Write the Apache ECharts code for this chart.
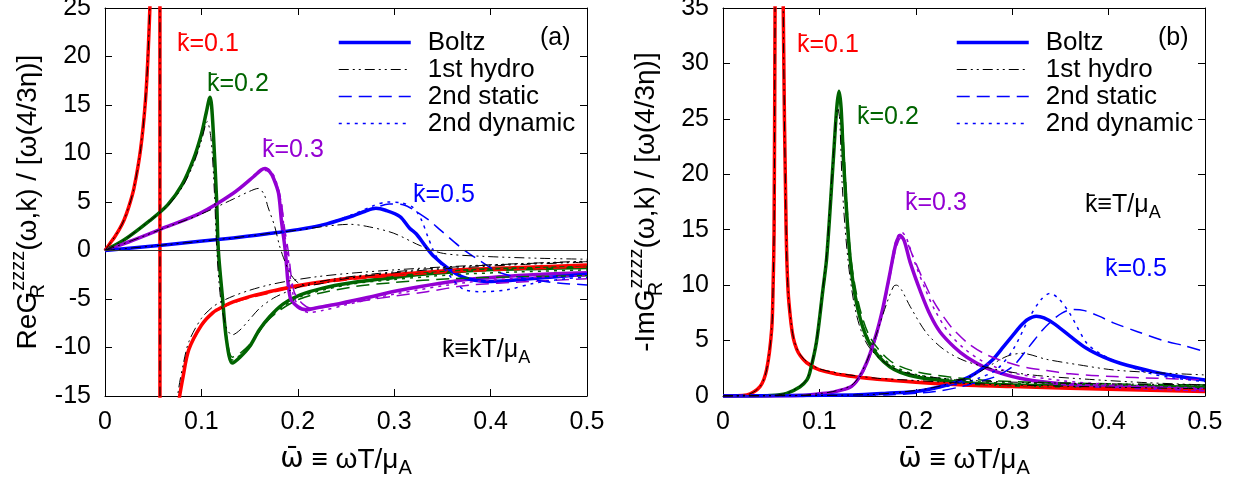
<!DOCTYPE html>
<html>
<head>
<meta charset="utf-8">
<script src="https://cdn.jsdelivr.net/npm/echarts@6/dist/echarts.min.js"></script>
<style>
  html, body { margin: 0; padding: 0; background: #fff; }
  #main { width: 1245px; height: 488px; }
</style>
</head>
<body>
<div id="main"></div>
<script>
const FONT = 'Liberation Sans';
const RED = '#ff0000', GREEN = '#006400', PURPLE = '#9400d3', BLUE = '#0000ff';

// ---- panel (a): Re G_R^zzzz / [w(4/3 eta)] ----
// k = 0.1 (pole near w = 0.057)
const reBoltz01 = [[0,0],[0.005,0.7],[0.01,1.4],[0.015,2.2],[0.02,3.2],[0.025,4.6],[0.03,6.4],[0.037,10.5],[0.042,15.5],[0.045,21],[0.048,30],[0.052,55],[0.055,150],[0.0568,400],[0.0572,-400],[0.06,-70],[0.065,-32],[0.07,-22],[0.076,-16],[0.081,-13],[0.087,-10.2],[0.1,-7.7],[0.112,-6.4],[0.122,-5.8],[0.133,-5.3],[0.15,-4.75],[0.168,-4.3],[0.19,-3.8],[0.22,-3.3],[0.254,-2.85],[0.29,-2.55],[0.358,-2.05],[0.43,-1.75],[0.5,-1.5]];
const reHydro01 = [[0,0],[0.005,0.7],[0.01,1.4],[0.015,2.2],[0.02,3.2],[0.025,4.6],[0.03,6.4],[0.037,10.5],[0.042,15.5],[0.045,21],[0.048,30],[0.052,55],[0.055,150],[0.0568,400],[0.0572,-400],[0.06,-65],[0.065,-29],[0.07,-19.5],[0.076,-14.5],[0.081,-11.8],[0.087,-9.4],[0.1,-7.0],[0.112,-5.8],[0.122,-5.2],[0.133,-4.7],[0.15,-4.1],[0.168,-3.6],[0.19,-3.15],[0.22,-2.7],[0.254,-2.35],[0.3,-2.0],[0.36,-1.65],[0.43,-1.35],[0.5,-1.1]];
const reStatic01 = [[0,0],[0.005,0.7],[0.01,1.4],[0.015,2.2],[0.02,3.2],[0.025,4.6],[0.03,6.4],[0.037,10.5],[0.042,15.5],[0.045,21],[0.048,30],[0.052,55],[0.055,150],[0.0568,400],[0.0572,-400],[0.06,-70],[0.065,-32],[0.07,-22],[0.076,-16],[0.081,-13],[0.087,-10.3],[0.1,-7.8],[0.112,-6.5],[0.122,-5.9],[0.133,-5.4],[0.15,-4.9],[0.168,-4.45],[0.19,-3.95],[0.22,-3.45],[0.254,-3.0],[0.29,-2.7],[0.358,-2.25],[0.43,-1.95],[0.5,-1.7]];
const reDyn01 = [[0,0],[0.005,0.7],[0.01,1.4],[0.015,2.2],[0.02,3.2],[0.025,4.6],[0.03,6.4],[0.037,10.5],[0.042,15.5],[0.045,21],[0.048,30],[0.052,55],[0.055,150],[0.0568,400],[0.0572,-400],[0.06,-70],[0.065,-32],[0.07,-22],[0.076,-16],[0.081,-13],[0.087,-10.2],[0.1,-7.7],[0.112,-6.4],[0.122,-5.8],[0.133,-5.3],[0.15,-4.8],[0.168,-4.35],[0.19,-3.85],[0.22,-3.35],[0.254,-2.9],[0.29,-2.6],[0.358,-2.1],[0.43,-1.8],[0.5,-1.55]];
// k = 0.2
const reBoltz02 = [[0,0],[0.02,1.1],[0.0467,3.1],[0.065,4.7],[0.08,6.8],[0.0917,9.4],[0.1,12.0],[0.105,14.2],[0.109,15.8],[0.1105,15],[0.1124,12.1],[0.1158,5.2],[0.1176,0],[0.122,-5],[0.126,-9.2],[0.132,-11.6],[0.14,-11],[0.15,-9.9],[0.16,-8.2],[0.171,-6.8],[0.185,-5.5],[0.202,-4.6],[0.225,-3.9],[0.254,-3.35],[0.29,-2.9],[0.323,-2.5],[0.392,-2.0],[0.45,-1.85],[0.5,-1.75]];
const reHydro02 = [[0,0],[0.02,1.1],[0.0467,3.1],[0.065,4.6],[0.08,6.5],[0.0917,8.9],[0.1,11.3],[0.106,13.3],[0.11,11.5],[0.1135,6],[0.116,0],[0.12,-5],[0.126,-8],[0.132,-8.7],[0.14,-8.2],[0.15,-7.1],[0.161,-5.9],[0.175,-4.9],[0.19,-4.2],[0.21,-3.5],[0.24,-2.9],[0.28,-2.4],[0.34,-1.85],[0.4,-1.5],[0.45,-1.3],[0.5,-1.15]];
const reStatic02 = [[0,0],[0.02,1.1],[0.0467,3.1],[0.065,4.7],[0.08,6.8],[0.0917,9.3],[0.1,11.8],[0.105,14],[0.109,15.5],[0.1105,14.8],[0.1124,12],[0.1158,5],[0.1178,0],[0.122,-4.8],[0.126,-8.8],[0.132,-11],[0.14,-10.6],[0.15,-9.7],[0.171,-7.0],[0.202,-5.0],[0.254,-3.8],[0.3,-3.3],[0.36,-2.9],[0.43,-2.7],[0.5,-2.6]];
const reDyn02 = [[0,0],[0.02,1.1],[0.0467,3.1],[0.065,4.7],[0.08,6.8],[0.0917,9.4],[0.1,12.0],[0.105,14.1],[0.109,15.7],[0.1105,14.9],[0.1124,12.1],[0.1158,5.2],[0.1177,0],[0.122,-5],[0.126,-9],[0.132,-11.3],[0.14,-10.8],[0.15,-9.8],[0.171,-6.9],[0.202,-4.8],[0.254,-3.5],[0.3,-3.0],[0.36,-2.5],[0.43,-2.2],[0.5,-2.0]];
// k = 0.3
const reBoltz03 = [[0,0],[0.0294,1.08],[0.064,2.45],[0.0985,3.83],[0.133,5.9],[0.154,7.6],[0.162,8.3],[0.166,8.45],[0.171,8.1],[0.175,7.4],[0.18,5.9],[0.183,3.1],[0.187,0],[0.192,-4.8],[0.2,-5.8],[0.209,-6.1],[0.22,-5.9],[0.237,-5.6],[0.27,-4.9],[0.306,-4.1],[0.375,-3.0],[0.444,-2.5],[0.5,-2.3]];
const reHydro03 = [[0,0],[0.0294,1.08],[0.064,2.4],[0.0985,3.7],[0.133,5.3],[0.15,6.1],[0.159,6.4],[0.165,5.8],[0.169,4.5],[0.176,2.5],[0.181,0.5],[0.185,-0.7],[0.192,-2.35],[0.2,-3.3],[0.21,-3.6],[0.225,-3.4],[0.25,-2.9],[0.3,-2.3],[0.35,-1.9],[0.42,-1.5],[0.5,-1.2]];
const reStatic03 = [[0,0],[0.0294,1.08],[0.064,2.45],[0.0985,3.83],[0.133,5.9],[0.154,7.6],[0.162,8.15],[0.167,8.25],[0.172,8.0],[0.176,7.3],[0.182,5.5],[0.186,2.5],[0.19,0],[0.196,-4.2],[0.205,-5.5],[0.215,-6.0],[0.23,-5.8],[0.26,-5.3],[0.3,-4.7],[0.334,-4.25],[0.375,-3.6],[0.44,-3.2],[0.5,-2.9]];
const reDyn03 = [[0,0],[0.0294,1.08],[0.064,2.45],[0.0985,3.83],[0.133,5.9],[0.154,7.7],[0.162,8.35],[0.167,8.5],[0.172,8.2],[0.177,7.3],[0.183,4.8],[0.186,2],[0.189,0],[0.195,-4.5],[0.203,-6.0],[0.212,-6.4],[0.225,-6.2],[0.25,-5.6],[0.3,-4.5],[0.375,-3.3],[0.44,-2.8],[0.5,-2.6]];
// k = 0.5
const reBoltz05 = [[0,0],[0.064,0.6],[0.133,1.3],[0.17,1.75],[0.2,2.15],[0.23,2.75],[0.258,3.6],[0.27,4.05],[0.281,4.35],[0.291,4.15],[0.306,3.5],[0.316,2.3],[0.323,1.7],[0.332,0.5],[0.341,-0.6],[0.358,-2.0],[0.37,-2.7],[0.382,-3.05],[0.396,-3.2],[0.42,-3.1],[0.444,-2.9],[0.5,-2.45]];
const reHydro05 = [[0,0],[0.064,0.6],[0.133,1.3],[0.17,1.75],[0.2,2.1],[0.225,2.45],[0.24,2.62],[0.254,2.7],[0.271,2.5],[0.299,1.8],[0.327,0.5],[0.351,-0.3],[0.392,-0.6],[0.45,-0.8],[0.5,-0.9]];
const reStatic05 = [[0,0],[0.064,0.6],[0.133,1.3],[0.17,1.75],[0.2,2.15],[0.23,2.75],[0.258,3.6],[0.278,4.3],[0.295,4.8],[0.31,4.7],[0.32,4.2],[0.335,3.2],[0.348,2.1],[0.368,0.4],[0.382,-0.6],[0.41,-2.3],[0.444,-3.0],[0.47,-3.35],[0.5,-3.55]];
const reDyn05 = [[0,0],[0.064,0.6],[0.133,1.3],[0.17,1.75],[0.2,2.15],[0.23,2.8],[0.258,3.75],[0.278,4.6],[0.293,5.0],[0.308,4.9],[0.32,4.4],[0.328,3.2],[0.335,1.4],[0.342,-0.3],[0.35,-1.6],[0.361,-3.0],[0.372,-4.0],[0.389,-4.25],[0.417,-4.05],[0.444,-3.4],[0.479,-2.9],[0.5,-2.75]];

// ---- panel (b): -Im G_R^zzzz / [w(4/3 eta)] ----
const imBoltz01 = [[0,0],[0.0246,0.1],[0.0384,0.84],[0.0453,2.4],[0.0505,6],[0.052,10],[0.053,15],[0.054,35],[0.058,120],[0.0625,35],[0.0655,15],[0.0675,9.5],[0.0705,6.6],[0.073,5.2],[0.0765,4.2],[0.08,3.65],[0.0868,3.0],[0.1,2.35],[0.12,1.95],[0.135,1.75],[0.16,1.5],[0.2,1.25],[0.25,1.0],[0.3,0.85],[0.4,0.6],[0.5,0.4]];
const imHydro01 = [[0,0],[0.0246,0.1],[0.0384,0.84],[0.0453,2.4],[0.0505,6],[0.052,10],[0.053,15],[0.054,35],[0.058,120],[0.0625,35],[0.0655,15],[0.0675,9.6],[0.0705,6.7],[0.073,5.3],[0.0765,4.3],[0.08,3.75],[0.0868,3.1],[0.1,2.45],[0.12,2.05],[0.135,1.85],[0.16,1.6],[0.2,1.4],[0.25,1.15],[0.3,1.0],[0.4,0.8],[0.5,0.65]];
const imStatic01 = [[0,0],[0.0246,0.1],[0.0384,0.84],[0.0453,2.4],[0.0505,6],[0.052,10],[0.053,15],[0.054,35],[0.058,120],[0.0625,35],[0.0655,15],[0.0675,9.6],[0.0705,6.7],[0.073,5.3],[0.0765,4.3],[0.08,3.75],[0.0868,3.1],[0.1,2.45],[0.12,2.05],[0.135,1.85],[0.16,1.6],[0.2,1.35],[0.25,1.1],[0.3,0.95],[0.4,0.75],[0.5,0.6]];
const imDyn01 = [[0,0],[0.0246,0.1],[0.0384,0.84],[0.0453,2.4],[0.0505,6],[0.052,10],[0.053,15],[0.054,35],[0.058,120],[0.0625,35],[0.0655,15],[0.0675,9.5],[0.0705,6.6],[0.073,5.2],[0.0765,4.2],[0.08,3.65],[0.0868,3.0],[0.1,2.35],[0.12,1.95],[0.135,1.75],[0.16,1.5],[0.2,1.25],[0.25,1.05],[0.3,0.9],[0.4,0.65],[0.5,0.45]];
const imBoltz02 = [[0,0],[0.05,0.05],[0.066,0.24],[0.08,0.84],[0.087,1.44],[0.09,2.1],[0.097,4.9],[0.1035,9.5],[0.1076,12.5],[0.1144,21.3],[0.118,26],[0.1203,27.5],[0.1225,26],[0.125,21.3],[0.132,12.3],[0.14,7.8],[0.152,4.75],[0.173,2.64],[0.2,1.74],[0.253,1.2],[0.3,1.0],[0.37,0.9],[0.43,0.85],[0.5,0.8]];
const imHydro02 = [[0,0],[0.05,0.05],[0.066,0.25],[0.08,0.9],[0.087,1.5],[0.09,2.2],[0.097,5.0],[0.1035,9.7],[0.1076,12.8],[0.1144,21.5],[0.119,26],[0.121,25],[0.124,18.5],[0.13,12],[0.138,7.5],[0.15,4.6],[0.173,2.7],[0.2,1.9],[0.25,1.45],[0.3,1.25],[0.4,1.1],[0.5,1.0]];
const imStatic02 = [[0,0],[0.05,0.05],[0.066,0.24],[0.08,0.84],[0.087,1.44],[0.09,2.1],[0.097,4.8],[0.1035,9.3],[0.1076,12.3],[0.1144,21],[0.118,25.6],[0.1205,27],[0.1228,25.8],[0.1255,22],[0.132,13],[0.14,8.6],[0.152,5.4],[0.173,3.2],[0.2,2.2],[0.253,1.55],[0.3,1.3],[0.4,1.1],[0.5,1.0]];
const imDyn02 = [[0,0],[0.05,0.05],[0.066,0.24],[0.08,0.84],[0.087,1.44],[0.09,2.1],[0.097,4.9],[0.1035,9.5],[0.1076,12.5],[0.1144,21.3],[0.118,26],[0.1203,27.4],[0.1226,26],[0.1252,21.6],[0.132,12.6],[0.14,8.1],[0.152,5.0],[0.173,2.9],[0.2,1.95],[0.253,1.35],[0.3,1.15],[0.4,1.0],[0.5,0.9]];
const imBoltz03 = [[0,0],[0.08,0.05],[0.1,0.2],[0.114,0.35],[0.132,0.8],[0.14,1.5],[0.149,3.0],[0.159,5.6],[0.166,8],[0.173,11],[0.179,13.6],[0.1836,14.5],[0.188,14],[0.194,12.1],[0.205,9.4],[0.215,7.3],[0.225,5.8],[0.24,4.4],[0.253,3.5],[0.274,2.5],[0.308,1.6],[0.34,1.2],[0.377,0.95],[0.44,0.72],[0.5,0.55]];
const imHydro03 = [[0,0],[0.08,0.06],[0.1,0.22],[0.114,0.4],[0.132,0.9],[0.14,1.6],[0.149,3.1],[0.16,5.8],[0.17,8.4],[0.177,9.9],[0.18,10],[0.185,9.6],[0.194,8.1],[0.211,5.7],[0.229,4.2],[0.25,3.2],[0.28,2.45],[0.32,1.9],[0.38,1.5],[0.44,1.2],[0.5,1.0]];
const imStatic03 = [[0,0],[0.08,0.05],[0.1,0.2],[0.114,0.33],[0.132,0.75],[0.14,1.4],[0.149,2.8],[0.159,5.3],[0.166,7.7],[0.173,10.7],[0.179,13.2],[0.185,14.3],[0.19,14.0],[0.197,12.6],[0.207,10.6],[0.218,8.6],[0.23,7.0],[0.239,6.0],[0.255,4.7],[0.274,3.7],[0.308,2.7],[0.336,2.3],[0.36,2.0],[0.405,1.75],[0.45,1.6],[0.5,1.45]];
const imDyn03 = [[0,0],[0.08,0.05],[0.1,0.2],[0.114,0.33],[0.132,0.75],[0.14,1.45],[0.149,2.9],[0.159,5.5],[0.166,8],[0.173,11.2],[0.179,13.9],[0.185,14.8],[0.19,14.3],[0.2,11.8],[0.21,9.6],[0.22,7.7],[0.235,5.6],[0.25,4.3],[0.27,3.1],[0.3,2.1],[0.35,1.4],[0.4,1.05],[0.45,0.85],[0.5,0.7]];
const imBoltz05 = [[0,0],[0.135,0.1],[0.17,0.25],[0.204,0.45],[0.239,1.15],[0.255,1.7],[0.267,2.35],[0.28,3.3],[0.291,4.45],[0.3,5.4],[0.308,6.25],[0.316,6.9],[0.325,7.2],[0.333,7.05],[0.343,6.55],[0.36,5.4],[0.377,4.3],[0.395,3.5],[0.412,2.95],[0.446,2.2],[0.47,1.8],[0.5,1.45]];
const imHydro05 = [[0,0],[0.15,0.12],[0.2,0.5],[0.23,1.0],[0.26,1.9],[0.28,2.9],[0.295,3.6],[0.31,3.85],[0.336,3.3],[0.37,2.8],[0.405,2.35],[0.45,2.1],[0.5,1.9]];
const imStatic05 = [[0,0],[0.17,0.1],[0.22,0.4],[0.25,0.9],[0.27,1.4],[0.284,1.8],[0.301,2.7],[0.318,4.5],[0.33,5.8],[0.34,6.7],[0.352,7.5],[0.363,7.8],[0.375,7.7],[0.39,7.2],[0.405,6.6],[0.43,5.8],[0.457,5.0],[0.48,4.5],[0.5,4.0]];
const imDyn05 = [[0,0],[0.15,0.1],[0.2,0.45],[0.24,1.0],[0.265,1.6],[0.284,2.4],[0.301,4.2],[0.318,7.1],[0.33,8.7],[0.339,9.25],[0.348,8.8],[0.36,7.4],[0.377,4.8],[0.39,3.9],[0.405,3.25],[0.44,2.1],[0.47,1.6],[0.5,1.3]];

const xTicks = { min: 0, max: 0.5, interval: 0.1 };
const yTicksA = { min: -15, max: 25, interval: 5 };
const yTicksB = { min: 0, max: 35, interval: 5 };

const STYLE = {
  boltz:  { width: 3.5, type: 'solid' },
  hydro:  { width: 1, type: [10, 4, 2, 4, 2, 4] },
  static: { width: 1.5, type: [13, 7] },
  dyn:    { width: 1.5, type: [3, 5] }
};

function line(name, data, color, kind, panel) {
  const c = kind === 'hydro' ? '#000' : color;
  return {
    name: name, type: 'line', data: data,
    xAxisIndex: panel * 2, yAxisIndex: panel * 2,
    symbol: 'none', smooth: 0.3,
    lineStyle: { color: c, width: STYLE[kind].width, type: STYLE[kind].type, join: 'round' },
    itemStyle: { color: c },
    animation: false
  };
}

const series = [
  line('Boltz 0.1', reBoltz01, RED, 'boltz', 0),
  line('Boltz 0.2', reBoltz02, GREEN, 'boltz', 0),
  line('Boltz 0.3', reBoltz03, PURPLE, 'boltz', 0),
  line('Boltz', reBoltz05, BLUE, 'boltz', 0),
  line('static 0.1', reStatic01, RED, 'static', 0),
  line('static 0.2', reStatic02, GREEN, 'static', 0),
  line('static 0.3', reStatic03, PURPLE, 'static', 0),
  line('2nd static', reStatic05, BLUE, 'static', 0),
  line('dyn 0.1', reDyn01, RED, 'dyn', 0),
  line('dyn 0.2', reDyn02, GREEN, 'dyn', 0),
  line('dyn 0.3', reDyn03, PURPLE, 'dyn', 0),
  line('2nd dynamic', reDyn05, BLUE, 'dyn', 0),
  line('1st hydro', reHydro01, RED, 'hydro', 0),
  line('1st hydro', reHydro02, GREEN, 'hydro', 0),
  line('1st hydro', reHydro03, PURPLE, 'hydro', 0),
  line('1st hydro', reHydro05, BLUE, 'hydro', 0),

  line('Boltz 0.1', imBoltz01, RED, 'boltz', 1),
  line('Boltz 0.2', imBoltz02, GREEN, 'boltz', 1),
  line('Boltz 0.3', imBoltz03, PURPLE, 'boltz', 1),
  line('Boltz', imBoltz05, BLUE, 'boltz', 1),
  line('static 0.1', imStatic01, RED, 'static', 1),
  line('static 0.2', imStatic02, GREEN, 'static', 1),
  line('static 0.3', imStatic03, PURPLE, 'static', 1),
  line('2nd static', imStatic05, BLUE, 'static', 1),
  line('dyn 0.1', imDyn01, RED, 'dyn', 1),
  line('dyn 0.2', imDyn02, GREEN, 'dyn', 1),
  line('dyn 0.3', imDyn03, PURPLE, 'dyn', 1),
  line('2nd dynamic', imDyn05, BLUE, 'dyn', 1),
  line('1st hydro', imHydro01, RED, 'hydro', 1),
  line('1st hydro', imHydro02, GREEN, 'hydro', 1),
  line('1st hydro', imHydro03, PURPLE, 'hydro', 1),
  line('1st hydro', imHydro05, BLUE, 'hydro', 1)
];

// thin zero line of panel (a)
series[0].markLine = {
  silent: true, symbol: 'none', label: { show: false },
  lineStyle: { color: '#333', width: 1, type: 'solid' },
  data: [{ yAxis: 0 }]
};

const axisBlack = { show: true, onZero: false, lineStyle: { color: '#000', width: 1 } };
const tickIn = { show: true, inside: true, length: 7, lineStyle: { color: '#000', width: 1 } };
const tickFont = { color: '#000', fontSize: 25, fontFamily: FONT };
const titleRich = {
  m: { fontSize: 28, lineHeight: 40, fontFamily: FONT, color: '#000' },
  s: { fontSize: 20, lineHeight: 20, fontFamily: FONT, color: '#000', verticalAlign: 'bottom', width: 1 },
  p: { fontSize: 20, lineHeight: 20, fontFamily: FONT, color: '#000', verticalAlign: 'top' }
};
const xRich = {
  o: { fontSize: 28, lineHeight: 36, fontFamily: 'DejaVu Sans', color: '#000' },
  m: { fontSize: 28, lineHeight: 36, fontFamily: FONT, color: '#000' },
  s: { fontSize: 20, lineHeight: 20, fontFamily: FONT, color: '#000', verticalAlign: 'bottom' }
};

function xAxes(grid) {
  return [
    Object.assign({ gridIndex: grid, type: 'value', position: 'bottom',
      axisLine: axisBlack, axisTick: tickIn, splitLine: { show: false },
      axisLabel: Object.assign({ margin: 14 }, tickFont),
      name: '{o|ω̄}{m| ≡ ωT/μ}{s|A}', nameLocation: 'middle', nameGap: 46,
      nameTextStyle: { rich: xRich } }, xTicks),
    Object.assign({ gridIndex: grid, type: 'value', position: 'top',
      axisLine: axisBlack, axisTick: tickIn, splitLine: { show: false },
      axisLabel: { show: false } }, xTicks)
  ];
}
function yAxes(grid, ticks, title) {
  return [
    Object.assign({ gridIndex: grid, type: 'value', position: 'left',
      axisLine: axisBlack, axisTick: tickIn, splitLine: { show: false },
      axisLabel: Object.assign({ margin: 14 }, tickFont),
      name: title, nameLocation: 'middle', nameGap: 57,
      nameTextStyle: { rich: titleRich } }, ticks),
    Object.assign({ gridIndex: grid, type: 'value', position: 'right',
      axisLine: axisBlack, axisTick: tickIn, splitLine: { show: false },
      axisLabel: { show: false } }, ticks)
  ];
}

const legendNames = ['Boltz', '1st hydro', '2nd static', '2nd dynamic'];
function legendAt(left) {
  return {
    data: legendNames, orient: 'vertical', left: left, top: 24,
    itemWidth: 72, itemHeight: 14, itemGap: 0, selectedMode: false,
    itemStyle: { opacity: 0, color: 'rgba(0,0,0,0)', borderWidth: 0 },
    lineStyle: { width: 'inherit', type: 'inherit', color: 'inherit', opacity: 1 },
    textStyle: { fontSize: 26, lineHeight: 27, color: '#000', fontFamily: FONT, padding: [0, 0, 0, 12] }
  };
}

function label(text, x, y, color) {
  return { type: 'text', x: x, y: y, silent: true,
    style: { text: text, fill: color, font: '25px "' + FONT + '"', verticalAlign: 'middle' } };
}
function richLabel(text, x, y) {
  return { type: 'text', x: x, y: y, silent: true,
    style: { text: text, verticalAlign: 'middle', rich: {
      m: { fontSize: 25, lineHeight: 34, fontFamily: FONT, fill: '#000' },
      s: { fontSize: 18, lineHeight: 18, fontFamily: FONT, fill: '#000', verticalAlign: 'bottom' } } } };
}

const option = {
  animation: false,
  backgroundColor: '#fff',
  grid: [
    { left: 105, top: 8, width: 482, height: 388, outerBoundsMode: 'none' },
    { left: 723, top: 8, width: 482, height: 388, outerBoundsMode: 'none' }
  ],
  xAxis: xAxes(0).concat(xAxes(1)),
  yAxis: yAxes(0, yTicksA, '{m|ReG}{s|R}{p|zzzz}{m|(ω,k) / [ω(4/3η)]}')
    .concat(yAxes(1, yTicksB, '{m|-ImG}{s|R}{p|zzzz}{m|(ω,k) / [ω(4/3η)]}')),
  legend: [legendAt(332), legendAt(950)],
  series: series,
  graphic: [
    label('k̄=0.1', 177, 44, RED),
    label('k̄=0.2', 207, 84, GREEN),
    label('k̄=0.3', 262, 150, PURPLE),
    label('k̄=0.5', 413, 195, BLUE),
    label('(a)', 540, 38, '#000'),
    richLabel('{m|k̄≡kT/μ}{s|A}', 442, 350),
    label('k̄=0.1', 797, 45, RED),
    label('k̄=0.2', 857, 117, GREEN),
    label('k̄=0.3', 905, 203, PURPLE),
    label('k̄=0.5', 1105, 269, BLUE),
    label('(b)', 1158, 38, '#000'),
    richLabel('{m|k̄≡T/μ}{s|A}', 1085, 205)
  ]
};

const chart = echarts.init(document.getElementById('main'), null, { renderer: 'canvas' });
chart.setOption(option);
</script>
</body>
</html>
